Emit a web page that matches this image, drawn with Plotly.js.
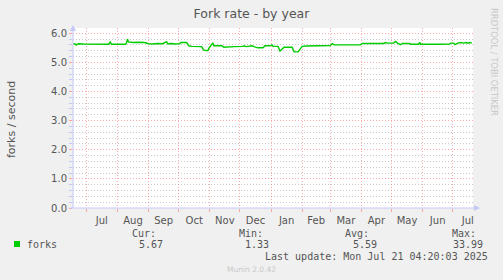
<!DOCTYPE html>
<html>
<head>
<meta charset="utf-8">
<script src="https://cdn.plot.ly/plotly-3.0.1.min.js"></script>
<style>html,body{margin:0;padding:0;background:#f0f0f0;}#chart{width:503px;height:280px;}</style>
</head>
<body>
<div id="chart"></div>
<script>
// Fork rate (forks / second), daily-ish samples
const dates = [
 '2024-06-18','2024-06-20','2024-06-21','2024-06-23','2024-06-28','2024-07-05','2024-07-15','2024-07-23','2024-07-25','2024-07-26',
 '2024-08-03','2024-08-09','2024-08-10','2024-08-11','2024-08-12','2024-08-17','2024-08-22','2024-08-28','2024-09-01','2024-09-05',
 '2024-09-10','2024-09-15','2024-09-19','2024-09-20','2024-09-24','2024-09-27','2024-10-02','2024-10-03','2024-10-09','2024-10-11',
 '2024-10-14','2024-10-24','2024-10-26','2024-10-30','2024-10-31','2024-11-02','2024-11-04','2024-11-05','2024-11-13','2024-11-15',
 '2024-11-23','2024-11-25','2024-12-04','2024-12-05','2024-12-07','2024-12-13','2024-12-15','2024-12-19','2024-12-24','2024-12-26',
 '2024-12-31','2025-01-02','2025-01-03','2025-01-08','2025-01-10','2025-01-12','2025-01-14','2025-01-22','2025-01-24','2025-01-28',
 '2025-01-30','2025-02-01','2025-02-05','2025-02-11','2025-02-17','2025-02-24','2025-03-01','2025-03-03','2025-03-05','2025-03-16',
 '2025-03-26','2025-03-31','2025-04-02','2025-04-10','2025-04-23','2025-04-25','2025-04-27','2025-05-03','2025-05-05','2025-05-07',
 '2025-05-10','2025-05-12','2025-05-19','2025-05-20','2025-05-28','2025-05-29','2025-05-30','2025-06-18','2025-06-28','2025-06-29',
 '2025-07-02','2025-07-03','2025-07-05','2025-07-06','2025-07-09','2025-07-12','2025-07-14','2025-07-16','2025-07-18','2025-07-20'
];
const forks = [
 5.64,5.63,5.59,5.64,5.63,5.62,5.63,5.62,5.70,5.62,
 5.62,5.62,5.66,5.80,5.70,5.68,5.69,5.68,5.64,5.63,
 5.65,5.64,5.71,5.64,5.65,5.63,5.64,5.68,5.68,5.57,
 5.55,5.54,5.42,5.40,5.48,5.57,5.67,5.57,5.57,5.52,
 5.52,5.54,5.55,5.57,5.54,5.57,5.54,5.50,5.50,5.57,
 5.57,5.60,5.55,5.55,5.39,5.45,5.52,5.52,5.36,5.36,
 5.45,5.55,5.56,5.57,5.57,5.57,5.58,5.64,5.60,5.60,
 5.60,5.60,5.65,5.65,5.65,5.68,5.66,5.66,5.72,5.66,
 5.61,5.65,5.65,5.62,5.62,5.69,5.62,5.62,5.63,5.66,
 5.66,5.61,5.66,5.66,5.68,5.66,5.68,5.66,5.68,5.67
];
const seriesName = 'forks';
const statLabels = ['Cur:', 'Min:', 'Avg:', 'Max:'];
const statValues = ['5.67', '1.33', '5.59', '33.99'];
const yTicks = [0, 1, 2, 3, 4, 5, 6];
const titleText = 'Fork rate - by year';
const yTitle = 'forks / second';
const lastUpdate = 'Last update: Mon Jul 21 04:20:03 2025';
const footer = 'Munin 2.0.42';
const sideText = 'RRDTOOL / TOBI OETIKER';

// pixel helpers (plot area: x 73..473, y 28..208)
const PL = 73, PW = 400, PB = 208, PH = 180;
const px = x => (x - PL) / PW;
const py = y => (PB - y) / PH;

const GREEN = '#00cc00';
const TXT = '#555555';
const MGRID = 'rgba(255,90,90,0.5)';
const GRID = '#c8c8c8';
const AXIS = '#c4c8f6';
const mono = 'DejaVu Sans Mono, monospace';
const sans = 'DejaVu Sans, sans-serif';

const statLabelRight = [156, 263, 369, 476];
const statValueRight = [163, 269, 377, 483];

const annotations = [];
annotations.push({xref:'paper', yref:'paper', x:px(11), y:py(120), text:yTitle, textangle:-90, showarrow:false,
  font:{family:sans, size:11, color:TXT}, xanchor:'center', yanchor:'middle', borderpad:0, borderwidth:0});
annotations.push({xref:'paper', yref:'paper', x:px(27), y:py(244), text:seriesName, showarrow:false,
  font:{family:mono, size:10, color:TXT}, xanchor:'left', yanchor:'middle', borderpad:0, borderwidth:0});
statLabels.forEach((s, i) => {
  annotations.push({xref:'paper', yref:'paper', x:px(statLabelRight[i]), y:py(233), text:s, showarrow:false,
    font:{family:mono, size:10, color:TXT}, xanchor:'right', yanchor:'middle', borderpad:0, borderwidth:0});
  annotations.push({xref:'paper', yref:'paper', x:px(statValueRight[i]), y:py(244), text:statValues[i], showarrow:false,
    font:{family:mono, size:10, color:TXT}, xanchor:'right', yanchor:'middle', borderpad:0, borderwidth:0});
});
annotations.push({xref:'paper', yref:'paper', x:px(488), y:py(256), text:lastUpdate, showarrow:false,
  font:{family:mono, size:10, color:TXT}, xanchor:'right', yanchor:'middle', borderpad:0, borderwidth:0});
annotations.push({xref:'paper', yref:'paper', x:px(251.5), y:py(269), text:footer, showarrow:false,
  font:{family:sans, size:7.5, color:'#c8c8c8'}, xanchor:'center', yanchor:'middle', borderpad:0, borderwidth:0});
annotations.push({xref:'paper', yref:'paper', x:px(494), y:py(62), text:sideText, textangle:90, showarrow:false,
  font:{family:sans, size:8.4, color:'#c8c8c8'}, xanchor:'center', yanchor:'middle', borderpad:0, borderwidth:0});

const shapes = [
  // legend colour box
  {type:'rect', xref:'paper', yref:'paper', x0:px(14), x1:px(20), y0:py(247), y1:py(241), fillcolor:GREEN, line:{width:0}},
  // y axis line + arrow
  {type:'line', xref:'paper', yref:'paper', x0:0, x1:0, y0:py(208), y1:py(29), line:{color:AXIS, width:1}},
  {type:'path', xref:'paper', yref:'paper', path:`M ${px(70)} ${py(31)} L ${px(73)} ${py(25)} L ${px(76)} ${py(31)} Z`, fillcolor:AXIS, line:{width:0}},
  // x axis line + arrow
  {type:'line', xref:'paper', yref:'paper', x0:px(70), x1:px(476), y0:0, y1:0, line:{color:AXIS, width:1}},
  {type:'path', xref:'paper', yref:'paper', path:`M ${px(474)} ${py(205)} L ${px(480)} ${py(208)} L ${px(474)} ${py(211)} Z`, fillcolor:AXIS, line:{width:0}}
];

const trace = {
  x: dates, y: forks, type:'scatter', mode:'lines', name: seriesName,
  line:{color:GREEN, width:1.4}, hoverinfo:'skip'
};

const layout = {
  width:503, height:280,
  margin:{l:73, r:30, t:28, b:72, pad:0},
  paper_bgcolor:'#f0f0f0', plot_bgcolor:'#ffffff',
  showlegend:false,
  title:{text:titleText, x:0.5, xref:'container', y:1 - 14/280, yref:'container', xanchor:'center', yanchor:'middle',
    font:{family:sans, size:12.5, color:TXT}},
  xaxis:{
    type:'date', range:['2024-06-17 18:00','2025-07-21 04:20'],
    tick0:'2024-07-01', dtick:'M1', tickformat:'%b', ticklabelmode:'period',
    showgrid:true, gridcolor:MGRID, griddash:'1px,2px', gridwidth:1,
    ticks:'outside', ticklen:3, tickcolor:MGRID,
    tickfont:{family:sans, size:10, color:TXT},
    zeroline:false, showline:false, fixedrange:true
  },
  yaxis:{
    range:[0, 6.18], tick0:0, dtick:1, tickformat:'.1f',
    showgrid:true, gridcolor:MGRID, griddash:'1px,2px', gridwidth:1,
    ticks:'outside', ticklen:3, tickcolor:MGRID,
    minor:{dtick:0.2, showgrid:true, gridcolor:GRID, griddash:'1px,2px', ticks:'outside', ticklen:3, tickcolor:AXIS},
    tickfont:{family:sans, size:10, color:TXT},
    zeroline:false, showline:false, fixedrange:true
  },
  annotations: annotations,
  shapes: shapes
};

Plotly.newPlot('chart', [trace], layout, {staticPlot:true, displayModeBar:false});
</script>
</body>
</html>
